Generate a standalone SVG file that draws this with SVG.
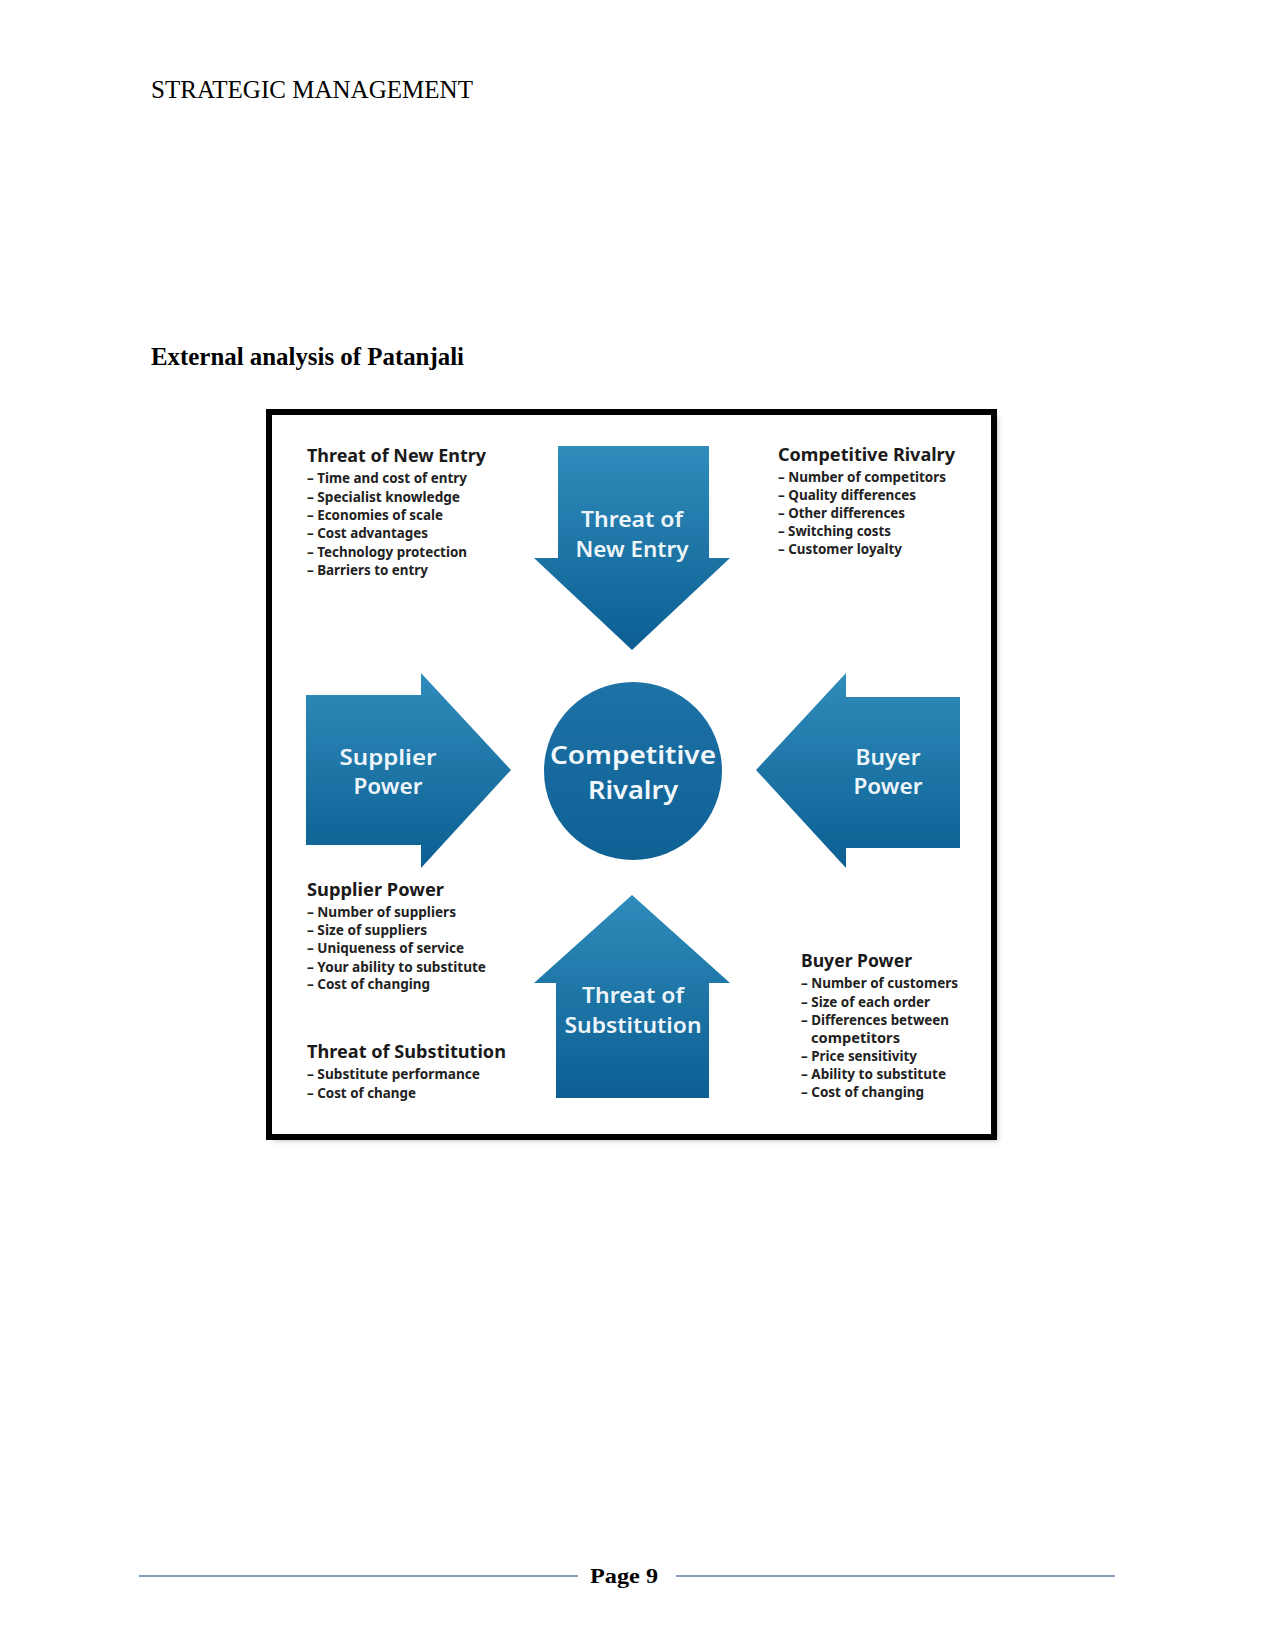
<svg xmlns="http://www.w3.org/2000/svg" width="1275" height="1651" viewBox="0 0 1275 1651">
  <defs>
    <linearGradient id="gArrow" x1="0" y1="0" x2="0" y2="1">
      <stop offset="0" stop-color="#2f8cbb"/>
      <stop offset="1" stop-color="#0c5f92"/>
    </linearGradient>
    <linearGradient id="gCircle" x1="0" y1="0" x2="0" y2="1">
      <stop offset="0" stop-color="#1d72a6"/>
      <stop offset="1" stop-color="#0f6194"/>
    </linearGradient>
    <filter id="shadow" x="-5%" y="-5%" width="110%" height="110%">
      <feGaussianBlur stdDeviation="2.5"/>
    </filter>
    <style>
      .doc { font-family: "Liberation Serif", "Times New Roman", serif; fill: #000; }
      .head { font-family: "Noto Sans", "Open Sans", sans-serif; font-weight: 700; font-size: 18px; fill: #1a1a1a; }
      .item { font-family: "Noto Sans", "Open Sans", sans-serif; font-weight: 700; font-size: 14px; fill: #222; }
      .lbl { font-family: "Noto Sans", "Open Sans", sans-serif; font-weight: 600; font-size: 21px; fill: #eef5fa; text-anchor: middle; }
      .big { font-family: "Noto Sans", "Open Sans", sans-serif; font-weight: 600; font-size: 25px; fill: #f2f7fb; text-anchor: middle; }
      .arrow { fill: url(#gArrow); }
    </style>
  </defs>

  <rect width="1275" height="1651" fill="#ffffff"/>

  <!-- page header -->
  <g id="page-header">
    <text class="doc" x="151" y="98" font-size="25" textLength="322" lengthAdjust="spacingAndGlyphs">STRATEGIC MANAGEMENT</text>
    <text class="doc" x="151" y="365" font-size="25" font-weight="bold" textLength="313" lengthAdjust="spacingAndGlyphs">External analysis of Patanjali</text>
  </g>

  <!-- frame -->
  <g id="frame">
    <rect x="273" y="416" width="725" height="725" fill="#9a9a9a" opacity="0.6" filter="url(#shadow)"/>
    <rect x="269" y="412" width="725" height="725" fill="#ffffff" stroke="#000000" stroke-width="6"/>
  </g>

  <!-- connectors (the force arrows) -->
  <g id="connectors">
    <polygon id="arrow-new-entry" class="arrow" points="558,446 709,446 709,558 730,558 632,650 534,558 558,558"/>
    <polygon id="arrow-substitution" class="arrow" points="632,895 730,983 709,983 709,1098 556,1098 556,983 534,983"/>
    <polygon id="arrow-supplier" class="arrow" points="306,695 421,695 421,673 511,770 421,868 421,845 306,845"/>
    <polygon id="arrow-buyer" class="arrow" points="960,697 846,697 846,673 756,770 846,868 846,848 960,848"/>
  </g>

  <!-- centre node -->
  <g id="node-competitive-rivalry">
    <circle cx="633" cy="771" r="89" fill="url(#gCircle)"/>
    <text class="big" x="633" y="764" textLength="166" lengthAdjust="spacingAndGlyphs">Competitive</text>
    <text class="big" x="633" y="799" textLength="90" lengthAdjust="spacingAndGlyphs">Rivalry</text>
  </g>

  <g id="node-threat-new-entry">
    <text class="lbl" x="632" y="527" textLength="102" lengthAdjust="spacingAndGlyphs">Threat of</text>
    <text class="lbl" x="632" y="557" textLength="113" lengthAdjust="spacingAndGlyphs">New Entry</text>
  </g>

  <g id="node-threat-substitution">
    <text class="lbl" x="633" y="1003" textLength="102" lengthAdjust="spacingAndGlyphs">Threat of</text>
    <text class="lbl" x="633" y="1033" textLength="137" lengthAdjust="spacingAndGlyphs">Substitution</text>
  </g>

  <g id="node-supplier-power">
    <text class="lbl" x="388" y="765" textLength="97" lengthAdjust="spacingAndGlyphs">Supplier</text>
    <text class="lbl" x="388" y="794" textLength="69" lengthAdjust="spacingAndGlyphs">Power</text>
  </g>

  <g id="node-buyer-power">
    <text class="lbl" x="888" y="765" textLength="65" lengthAdjust="spacingAndGlyphs">Buyer</text>
    <text class="lbl" x="888" y="794" textLength="69" lengthAdjust="spacingAndGlyphs">Power</text>
  </g>

  <!-- text lists -->
  <g id="list-threat-new-entry">
    <text class="head" x="307" y="462" textLength="179" lengthAdjust="spacingAndGlyphs">Threat of New Entry</text>
    <text class="item" x="307" y="483" textLength="160" lengthAdjust="spacingAndGlyphs">– Time and cost of entry</text>
    <text class="item" x="307" y="502" textLength="153" lengthAdjust="spacingAndGlyphs">– Specialist knowledge</text>
    <text class="item" x="307" y="520" textLength="136" lengthAdjust="spacingAndGlyphs">– Economies of scale</text>
    <text class="item" x="307" y="538" textLength="121" lengthAdjust="spacingAndGlyphs">– Cost advantages</text>
    <text class="item" x="307" y="557" textLength="160" lengthAdjust="spacingAndGlyphs">– Technology protection</text>
    <text class="item" x="307" y="575" textLength="121" lengthAdjust="spacingAndGlyphs">– Barriers to entry</text>
  </g>

  <g id="list-competitive-rivalry">
    <text class="head" x="778" y="461" textLength="177" lengthAdjust="spacingAndGlyphs">Competitive Rivalry</text>
    <text class="item" x="778" y="482" textLength="168" lengthAdjust="spacingAndGlyphs">– Number of competitors</text>
    <text class="item" x="778" y="500" textLength="138" lengthAdjust="spacingAndGlyphs">– Quality differences</text>
    <text class="item" x="778" y="518" textLength="127" lengthAdjust="spacingAndGlyphs">– Other differences</text>
    <text class="item" x="778" y="536" textLength="113" lengthAdjust="spacingAndGlyphs">– Switching costs</text>
    <text class="item" x="778" y="554" textLength="124" lengthAdjust="spacingAndGlyphs">– Customer loyalty</text>
  </g>

  <g id="list-supplier-power">
    <text class="head" x="307" y="896" textLength="137" lengthAdjust="spacingAndGlyphs">Supplier Power</text>
    <text class="item" x="307" y="917" textLength="149" lengthAdjust="spacingAndGlyphs">– Number of suppliers</text>
    <text class="item" x="307" y="935" textLength="120" lengthAdjust="spacingAndGlyphs">– Size of suppliers</text>
    <text class="item" x="307" y="953" textLength="157" lengthAdjust="spacingAndGlyphs">– Uniqueness of service</text>
    <text class="item" x="307" y="972" textLength="179" lengthAdjust="spacingAndGlyphs">– Your ability to substitute</text>
    <text class="item" x="307" y="989" textLength="123" lengthAdjust="spacingAndGlyphs">– Cost of changing</text>
  </g>

  <g id="list-threat-substitution">
    <text class="head" x="307" y="1058" textLength="199" lengthAdjust="spacingAndGlyphs">Threat of Substitution</text>
    <text class="item" x="307" y="1079" textLength="173" lengthAdjust="spacingAndGlyphs">– Substitute performance</text>
    <text class="item" x="307" y="1098" textLength="109" lengthAdjust="spacingAndGlyphs">– Cost of change</text>
  </g>

  <g id="list-buyer-power">
    <text class="head" x="801" y="967" textLength="111" lengthAdjust="spacingAndGlyphs">Buyer Power</text>
    <text class="item" x="801" y="988" textLength="157" lengthAdjust="spacingAndGlyphs">– Number of customers</text>
    <text class="item" x="801" y="1007" textLength="129" lengthAdjust="spacingAndGlyphs">– Size of each order</text>
    <text class="item" x="801" y="1025" textLength="148" lengthAdjust="spacingAndGlyphs">– Differences between</text>
    <text class="item" x="811" y="1043" textLength="89" lengthAdjust="spacingAndGlyphs">competitors</text>
    <text class="item" x="801" y="1061" textLength="116" lengthAdjust="spacingAndGlyphs">– Price sensitivity</text>
    <text class="item" x="801" y="1079" textLength="145" lengthAdjust="spacingAndGlyphs">– Ability to substitute</text>
    <text class="item" x="801" y="1097" textLength="123" lengthAdjust="spacingAndGlyphs">– Cost of changing</text>
  </g>

  <!-- footer -->
  <g id="page-footer">
    <line x1="139" y1="1576" x2="578" y2="1576" stroke="#5b7fa8" stroke-width="1.5"/>
    <line x1="676" y1="1576" x2="1115" y2="1576" stroke="#5b7fa8" stroke-width="1.5"/>
    <text class="doc" x="590" y="1583" font-size="22" font-weight="bold" textLength="68" lengthAdjust="spacingAndGlyphs">Page 9</text>
  </g>
</svg>
